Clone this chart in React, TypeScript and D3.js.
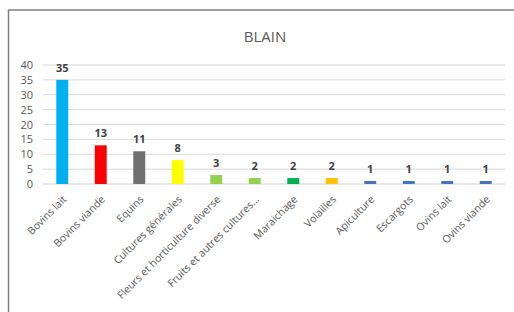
import React from "react";
import * as d3 from "d3";

const categories = ["Bovins lait", "Bovins viande", "Equins", "Cultures générales", "Fleurs et horticulture diverse", "Fruits et autres cultures…", "Maraichage", "Volailles", "Apiculture", "Escargots", "Ovins lait", "Ovins viande"];
const values = [35, 13, 11, 8, 3, 2, 2, 2, 1, 1, 1, 1];
const colors = ["#00B0F0", "#FF0000", "#6F6F6F", "#FFFF00", "#92D050", "#92D050", "#00B050", "#FFC000", "#4472C4", "#4472C4", "#4472C4", "#4472C4"];
const yTicks = [0, 5, 10, 15, 20, 25, 30, 35, 40];
const title = "BLAIN";

export default function App() {
  const W = 514, H = 312;
  const x = d3.scaleBand<string>().domain(categories).range([43, 505]).paddingInner(0.69).paddingOuter(0.345);
  const y = d3.scaleLinear().domain([0, 40]).range([184, 65]);
  const font = "'Open Sans', 'Noto Sans', sans-serif";
  return (
    <svg width={W} height={H} style={{ position: "absolute", left: 0, top: 0, background: "#fff" }}>
      <rect x={0} y={0} width={W} height={H} fill="#fff" />
      <line x1={8.5} y1={10} x2={8.5} y2={H} stroke="#7f7f7f" strokeWidth={1.5} />
      <line x1={8} y1={10} x2={W} y2={10} stroke="#7f7f7f" strokeWidth={1.5} />
      <text x={265} y={42} textAnchor="middle" fontFamily={font} fontSize={15} fill="#595959">{title}</text>
      {yTicks.map((t) => (
        <g key={t}>
          <line x1={43} x2={505} y1={y(t)} y2={y(t)} stroke={t === 0 ? "#d0d0d0" : "#d9d9d9"} strokeWidth={1} />
          <text x={33} y={y(t) + 4} textAnchor="end" fontFamily={font} fontSize={11} fill="#595959">{t}</text>
        </g>
      ))}
      {categories.map((c, i) => {
        const bx = x(c)!;
        const cx = bx + x.bandwidth() / 2;
        return (
          <g key={c}>
            <rect x={bx} y={y(values[i])} width={x.bandwidth()} height={y(0) - y(values[i])} fill={colors[i]} />
            <text x={cx} y={y(values[i]) - 8} textAnchor="middle" fontFamily={font} fontWeight="bold" fontSize={11} fill="#404040">{values[i]}</text>
            <text transform={`translate(${cx + 5},${200}) rotate(-45)`} textAnchor="end" fontFamily={font} fontSize={10.5} fill="#595959">{c}</text>
          </g>
        );
      })}
    </svg>
  );
}
